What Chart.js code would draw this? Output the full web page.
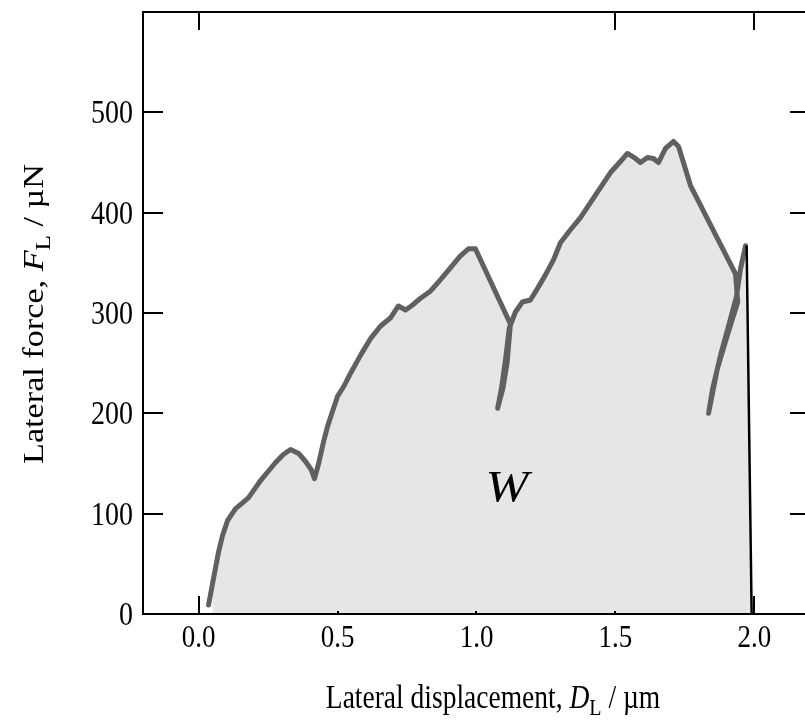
<!DOCTYPE html>
<html>
<head>
<meta charset="utf-8">
<script src="https://cdn.jsdelivr.net/npm/chart.js@4.4.0/dist/chart.umd.min.js"></script>
<style>
html,body{margin:0;padding:0;background:#fff;overflow:hidden;width:805px;height:724px;}
#wrap{position:absolute;left:0;top:0;width:815px;height:724px;}
</style>
</head>
<body>
<div id="wrap"><canvas id="c" width="815" height="724"></canvas></div>
<script>
// ---- data ----
const curveX = [0.036,0.05,0.061,0.072,0.086,0.104,0.133,0.155,0.18,0.2,0.223,0.25,0.277,0.305,0.331,0.36,0.385,0.405,0.417,0.432,0.45,0.464,0.482,0.5,0.525,0.547,0.583,0.62,0.655,0.69,0.719,0.745,0.77,0.8,0.835,0.87,0.906,0.942,0.971,0.996,1.122,1.11,1.095,1.076,1.09,1.105,1.118,1.14,1.165,1.194,1.212,1.248,1.277,1.302,1.338,1.374,1.41,1.446,1.482,1.518,1.543,1.572,1.59,1.615,1.637,1.655,1.68,1.709,1.727,1.77,1.932,1.94,1.903,1.867,1.835,1.85,1.88,1.91,1.935,1.95,1.968];
const curveY = [9,30,46,62,78,93,105,110,116,124,133,142,151,159,164,160,152,144,135,150,172,187,202,217,228,240,258,275,287,295,307,303,308,315,322,333,345,357,364,364,289,250,225,205,225,255,285,301,311,313,321,338,353,370,383,395,410,425,440,451,459,454,450,455,454,450,464,471,466,427,339,311,278,245,200,225,260,290,316,344,367];
const areaX = [0.05,0.05,0.061,0.072,0.086,0.104,0.133,0.155,0.18,0.2,0.223,0.25,0.277,0.305,0.331,0.36,0.385,0.405,0.417,0.432,0.45,0.464,0.482,0.5,0.525,0.547,0.583,0.62,0.655,0.69,0.719,0.745,0.77,0.8,0.835,0.87,0.906,0.942,0.971,0.996,1.122,1.14,1.165,1.194,1.212,1.248,1.277,1.302,1.338,1.374,1.41,1.446,1.482,1.518,1.543,1.572,1.59,1.615,1.637,1.655,1.68,1.709,1.727,1.77,1.932,1.95,1.968,1.985];
const areaY = [0,30,46,62,78,93,105,110,116,124,133,142,151,159,164,160,152,144,135,150,172,187,202,217,228,240,258,275,287,295,307,303,308,315,322,333,345,357,364,364,289,301,311,313,321,338,353,370,383,395,410,425,440,451,459,454,450,455,454,450,464,471,466,427,339,344,367,0];
const dropX = [1.972,1.99];
const dropY = [367,0];
const xTicks = [0.0,0.5,1.0,1.5,2.0];
const yTicks = [0,100,200,300,400,500];
const xRange = [-0.2,2.2];
const yRange = [0,600];
const xTitle = [["Lateral displacement, ","n"],["D","i"],["L","s"],[" / µm","n"]];
const yTitle = [["Lateral force, ","n"],["F","i"],["L","s"],[" / µN","n"]];
const areaLabel = "W";
const areaLabelPos = [1.11,124];

const pts = (xs,ys)=>xs.map((x,i)=>({x:x,y:ys[i]}));
const SERIF = '"Liberation Serif","DejaVu Serif",serif';
const STRETCH = 1.2; // text is taller than wide in the reference

function drawRich(ctx, parts, size, x, y, rot, sAlong, sAcross){
  ctx.save();
  ctx.translate(x,y);
  ctx.rotate(rot);
  ctx.scale(sAlong,sAcross);
  ctx.fillStyle='#000';
  ctx.textBaseline='alphabetic';
  ctx.textAlign='left';
  const fontFor=(st)=> st==='i' ? `italic ${size}px ${SERIF}` : st==='s' ? `${Math.round(size*0.72)}px ${SERIF}` : `${size}px ${SERIF}`;
  let total=0;
  parts.forEach(p=>{ctx.font=fontFor(p[1]); total+=ctx.measureText(p[0]).width;});
  let cx=-total/2;
  parts.forEach(p=>{
    ctx.font=fontFor(p[1]);
    const dy = p[1]==='s' ? size*0.22 : 0;
    ctx.fillText(p[0],cx,size*0.33+dy);
    cx+=ctx.measureText(p[0]).width;
  });
  ctx.restore();
}
function drawLabel(ctx,text,size,x,y,align){
  ctx.save();
  ctx.translate(x,y);
  ctx.scale(1,STRETCH);
  ctx.font=`${size}px ${SERIF}`;
  ctx.fillStyle='#000';
  ctx.textAlign=align;
  ctx.textBaseline='alphabetic';
  ctx.fillText(text,0,size*0.33);
  ctx.restore();
}

const framePlugin = {
  id:'frame',
  afterDatasetsDraw(chart){
    const ctx=chart.ctx, a=chart.chartArea, xs=chart.scales.x, ys=chart.scales.y;
    ctx.save();
    ctx.strokeStyle='#000';
    ctx.lineWidth=2;
    ctx.strokeRect(a.left,a.top,a.right-a.left,a.bottom-a.top);
    ctx.beginPath();
    yTicks.forEach(v=>{
      if(v===0) return;
      const py=Math.round(ys.getPixelForValue(v));
      ctx.moveTo(a.left,py); ctx.lineTo(a.left+20,py);
      ctx.moveTo(a.right,py); ctx.lineTo(a.right-20,py);
    });
    [0.0,1.5,2.0].forEach(v=>{
      const px=Math.round(xs.getPixelForValue(v));
      ctx.moveTo(px,a.top); ctx.lineTo(px,a.top+18);
    });
    [0.0,2.0].forEach(v=>{
      const px=Math.round(xs.getPixelForValue(v));
      ctx.moveTo(px,a.bottom); ctx.lineTo(px,a.bottom-18);
    });
    [0.5,1.0,1.5].forEach(v=>{
      const px=Math.round(xs.getPixelForValue(v));
      ctx.moveTo(px,a.bottom); ctx.lineTo(px,a.bottom-3);
    });
    ctx.stroke();
    ctx.restore();
    // tick labels
    xTicks.forEach(v=>drawLabel(ctx,v.toFixed(1),27,xs.getPixelForValue(v),a.bottom+22,'center'));
    yTicks.forEach(v=>drawLabel(ctx,String(v),28,a.left-10,ys.getPixelForValue(v),'right'));
    // W label
    ctx.save();
    ctx.translate(xs.getPixelForValue(areaLabelPos[0]), ys.getPixelForValue(areaLabelPos[1]));
    ctx.scale(1.12,0.95);
    ctx.font=`italic 46px ${SERIF}`;
    ctx.fillStyle='#000';
    ctx.textAlign='center';
    ctx.textBaseline='middle';
    ctx.fillText(areaLabel,0,0);
    ctx.restore();
    // axis titles
    drawRich(ctx,xTitle,27.5,493,697,0,1,STRETCH);
    drawRich(ctx,yTitle,28.5,34,314,-Math.PI/2,STRETCH,1);
  }
};

new Chart(document.getElementById('c'),{
  type:'scatter',
  data:{datasets:[
    {data:pts(dropX,dropY),showLine:true,borderColor:'#000',borderWidth:2.5,pointRadius:0,fill:false,tension:0},
    {data:pts(curveX,curveY),showLine:true,borderColor:'#606060',borderWidth:5,pointRadius:0,fill:false,tension:0,borderJoinStyle:'round',borderCapStyle:'round'},
    {data:pts(areaX,areaY),showLine:true,borderWidth:0,borderColor:'rgba(0,0,0,0)',backgroundColor:'#e6e6e6',pointRadius:0,fill:'origin',tension:0}
  ]},
  options:{
    responsive:false,
    animation:false,
    events:[],
    layout:{padding:{left:0,top:12,right:5,bottom:0}},
    plugins:{legend:{display:false},tooltip:{enabled:false}},
    scales:{
      x:{type:'linear',min:xRange[0],max:xRange[1],
        afterBuildTicks:s=>{s.ticks=xTicks.map(v=>({value:v}));},
        afterFit:s=>{s.height=110;},
        grid:{display:false,drawTicks:false},
        border:{display:false},
        ticks:{display:false}
      },
      y:{type:'linear',min:yRange[0],max:yRange[1],
        afterBuildTicks:s=>{s.ticks=yTicks.map(v=>({value:v}));},
        afterFit:s=>{s.width=143;},
        grid:{display:false,drawTicks:false},
        border:{display:false},
        ticks:{display:false}
      }
    }
  },
  plugins:[framePlugin]
});
</script>
</body>
</html>
